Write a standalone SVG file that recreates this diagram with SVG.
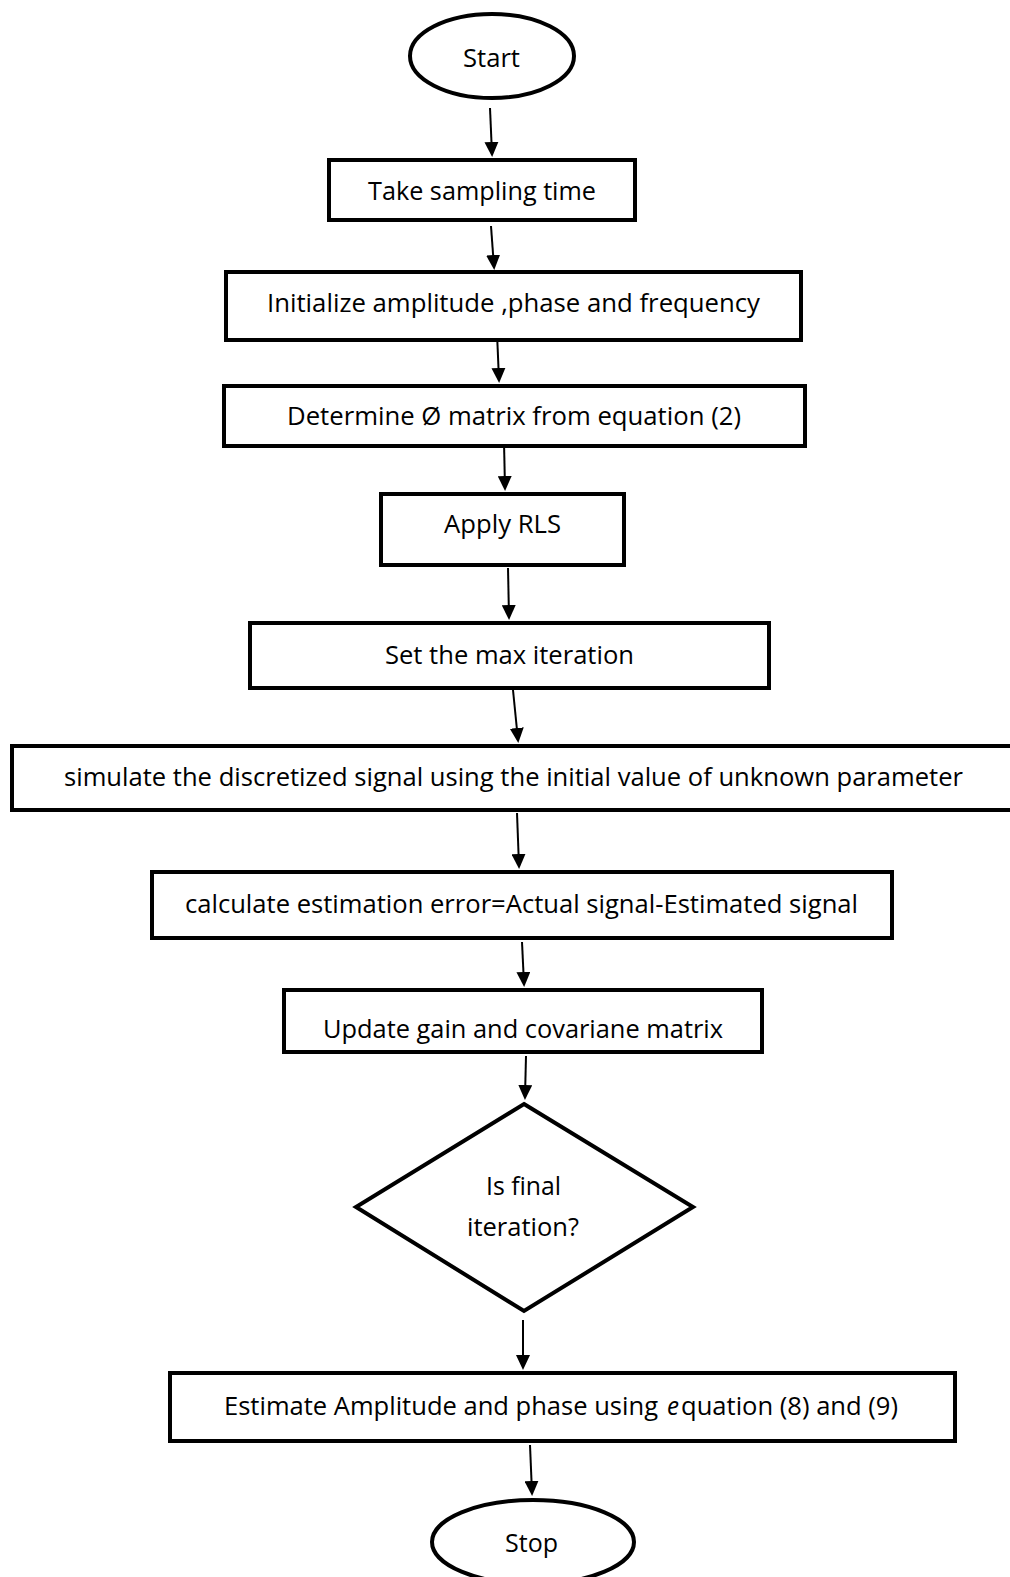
<svg xmlns="http://www.w3.org/2000/svg" width="1010" height="1577" viewBox="0 0 1010 1577">
  <style>
    .shape { fill: #ffffff; stroke: #000000; stroke-width: 4; }
    .label { font-family: "Open Sans", "Noto Sans", "Liberation Sans", sans-serif; font-size: 26px; fill: #000000; }
    .flow { stroke: #000000; stroke-width: 2; fill: none; marker-end: url(#arrow); }
  </style>
  <defs>
    <marker id="arrow" markerUnits="userSpaceOnUse" markerWidth="15" markerHeight="14" refX="12" refY="7" orient="auto">
      <path d="M0,0 L15,7 L0,14 Z" fill="#000000"/>
    </marker>
  </defs>
  <rect width="1010" height="1577" fill="#ffffff"/>

  <!-- flow connectors -->
  <g id="connectors">
    <line class="flow" x1="490" y1="108" x2="492" y2="154"/>
    <line class="flow" x1="491" y1="226" x2="494" y2="267"/>
    <line class="flow" x1="497" y1="333" x2="499" y2="380"/>
    <line class="flow" x1="504" y1="442" x2="505" y2="488"/>
    <line class="flow" x1="508" y1="568" x2="509" y2="617"/>
    <line class="flow" x1="513" y1="690" x2="518" y2="740"/>
    <line class="flow" x1="517" y1="813" x2="519" y2="866"/>
    <line class="flow" x1="522" y1="942" x2="524" y2="984"/>
    <line class="flow" x1="526" y1="1056" x2="525" y2="1097"/>
    <line class="flow" x1="523" y1="1320" x2="523" y2="1367"/>
    <line class="flow" x1="530" y1="1445" x2="532" y2="1493"/>
  </g>

  <g id="start">
    <ellipse class="shape" cx="492" cy="56" rx="82" ry="42"/>
    <text class="label" x="463" y="67" textLength="57" lengthAdjust="spacingAndGlyphs">Start</text>
  </g>

  <g id="take-sampling">
    <rect class="shape" x="329" y="160" width="306" height="60"/>
    <text class="label" x="368" y="200" textLength="228" lengthAdjust="spacingAndGlyphs">Take sampling time</text>
  </g>

  <g id="initialize">
    <rect class="shape" x="226" y="272" width="575" height="68"/>
    <text class="label" x="267" y="312" textLength="493" lengthAdjust="spacingAndGlyphs">Initialize amplitude ,phase and frequency</text>
  </g>

  <g id="determine-matrix">
    <rect class="shape" x="224" y="386" width="581" height="60"/>
    <text class="label" x="287" y="425" textLength="454" lengthAdjust="spacingAndGlyphs">Determine Ø matrix from equation (2)</text>
  </g>

  <g id="apply-rls">
    <rect class="shape" x="381" y="494" width="243" height="71"/>
    <text class="label" x="444" y="533" textLength="117" lengthAdjust="spacingAndGlyphs">Apply RLS</text>
  </g>

  <g id="max-iteration">
    <rect class="shape" x="250" y="623" width="519" height="65"/>
    <text class="label" x="385" y="664" textLength="249" lengthAdjust="spacingAndGlyphs">Set the max iteration</text>
  </g>

  <g id="simulate">
    <rect class="shape" x="12" y="746" width="1010" height="64"/>
    <text class="label" x="64" y="786" textLength="899" lengthAdjust="spacingAndGlyphs">simulate the discretized signal using the initial value of unknown parameter</text>
  </g>

  <g id="estimation-error">
    <rect class="shape" x="152" y="872" width="740" height="66"/>
    <text class="label" x="185" y="913" textLength="673" lengthAdjust="spacingAndGlyphs">calculate estimation error=Actual signal-Estimated signal</text>
  </g>

  <g id="update-gain">
    <rect class="shape" x="284" y="990" width="478" height="62"/>
    <text class="label" x="323" y="1038" textLength="400" lengthAdjust="spacingAndGlyphs">Update gain and covariane matrix</text>
  </g>

  <g id="final-check">
    <polygon class="shape" points="524,1104 693,1207 524,1311 356,1207"/>
    <text class="label" x="486" y="1195" textLength="75" lengthAdjust="spacingAndGlyphs">Is final</text>
    <text class="label" x="467" y="1236" textLength="112" lengthAdjust="spacingAndGlyphs">iteration?</text>
  </g>

  <g id="estimate-output">
    <rect class="shape" x="170" y="1373" width="785" height="68"/>
    <text class="label" x="224" y="1415" textLength="434" lengthAdjust="spacingAndGlyphs">Estimate Amplitude and phase using</text>
    <text class="label" x="667" y="1415" font-style="italic" textLength="12" lengthAdjust="spacingAndGlyphs">e</text>
    <text class="label" x="681" y="1415" textLength="217" lengthAdjust="spacingAndGlyphs">quation (8) and (9)</text>
  </g>

  <g id="stop">
    <ellipse class="shape" cx="533" cy="1542" rx="101" ry="42"/>
    <text class="label" x="505" y="1552" textLength="53" lengthAdjust="spacingAndGlyphs">Stop</text>
  </g>
</svg>
